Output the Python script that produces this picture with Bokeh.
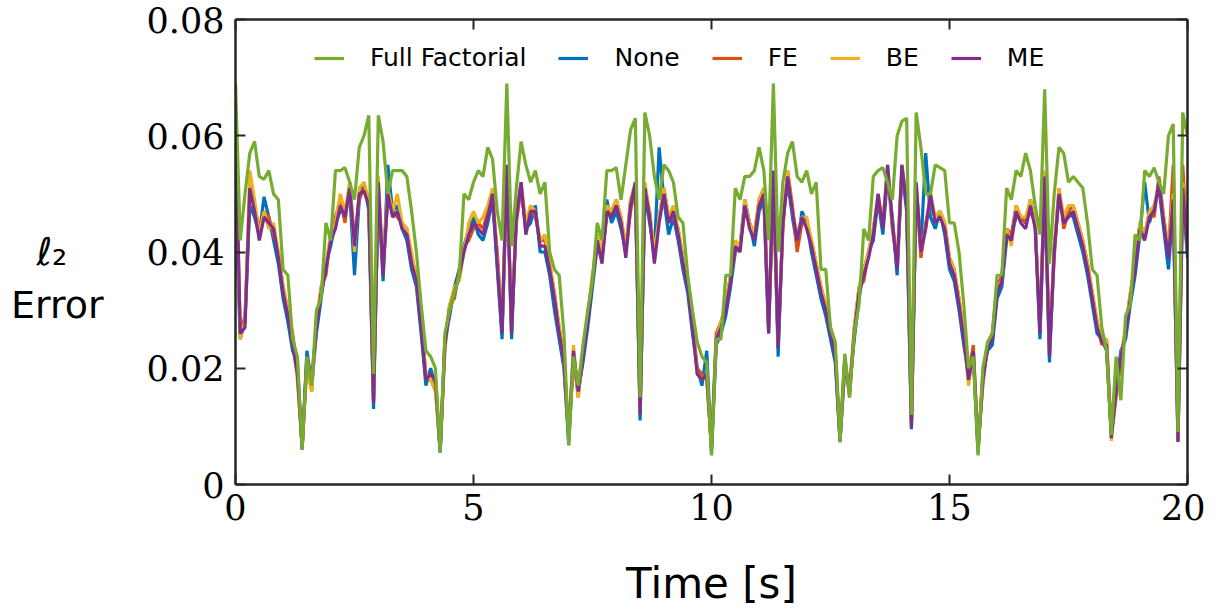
from bokeh.plotting import figure
from bokeh.models import (Range1d, FixedTicker, LinearAxis, PrintfTickFormatter,
                          Legend, LegendItem, CustomLabelingPolicy)
from bokeh.embed import file_html
from bokeh.resources import INLINE

# sample times [s], 0.1 s spacing
time_s = [i / 10 for i in range(201)]

series_names = ["Full Factorial", "None", "FE", "BE", "ME"]

full_factorial = [
    0.069, 0.042, 0.050, 0.057, 0.059, 0.053, 0.0525, 0.054, 0.050, 0.049,
    0.037, 0.036, 0.025, 0.022, 0.006, 0.022, 0.017, 0.030, 0.032, 0.045,
    0.042, 0.054, 0.054, 0.0545, 0.052, 0.049, 0.058, 0.060, 0.0635, 0.019,
    0.0635, 0.059, 0.050, 0.054, 0.054, 0.054, 0.053, 0.047, 0.040, 0.031,
    0.023, 0.022, 0.020, 0.0055, 0.026, 0.030, 0.033, 0.036, 0.050, 0.049,
    0.052, 0.054, 0.053, 0.058, 0.056, 0.047, 0.042, 0.069, 0.041, 0.051,
    0.059, 0.055, 0.052, 0.054, 0.050, 0.052, 0.040, 0.037, 0.036, 0.026,
    0.0067, 0.022, 0.017, 0.024, 0.030, 0.035, 0.045, 0.042, 0.054, 0.054,
    0.0545, 0.049, 0.055, 0.061, 0.063, 0.015, 0.064, 0.060, 0.053, 0.049,
    0.055, 0.054, 0.052, 0.046, 0.045, 0.036, 0.030, 0.0245, 0.022, 0.021,
    0.005, 0.025, 0.025, 0.036, 0.036, 0.051, 0.049, 0.053, 0.053, 0.054,
    0.058, 0.054, 0.042, 0.069, 0.040, 0.052, 0.057, 0.059, 0.053, 0.052,
    0.054, 0.050, 0.052, 0.037, 0.037, 0.027, 0.0245, 0.0073, 0.0225, 0.015,
    0.026, 0.031, 0.044, 0.042, 0.053, 0.054, 0.0545, 0.052, 0.049, 0.060,
    0.0625, 0.063, 0.012, 0.064, 0.058, 0.050, 0.050, 0.055, 0.0545, 0.054,
    0.045, 0.045, 0.040, 0.031, 0.020, 0.022, 0.005, 0.020, 0.0245, 0.026,
    0.036, 0.036, 0.051, 0.049, 0.054, 0.053, 0.057, 0.054, 0.048, 0.043,
    0.068, 0.038, 0.050, 0.058, 0.057, 0.052, 0.053, 0.052, 0.051, 0.045,
    0.037, 0.036, 0.027, 0.023, 0.0085, 0.022, 0.0145, 0.029, 0.031, 0.043,
    0.042, 0.054, 0.053, 0.0545, 0.052, 0.050, 0.060, 0.062, 0.009, 0.064,
    0.060,
]

none_err = [
    0.047, 0.025, 0.028, 0.048, 0.046, 0.043, 0.0495, 0.046, 0.042, 0.038,
    0.032, 0.028, 0.023, 0.021, 0.0060, 0.023, 0.017, 0.026, 0.032, 0.038,
    0.041, 0.045, 0.047, 0.047, 0.050, 0.036, 0.049, 0.052, 0.047, 0.013,
    0.051, 0.035, 0.055, 0.047, 0.048, 0.044, 0.042, 0.037, 0.034, 0.026,
    0.017, 0.020, 0.017, 0.0055, 0.025, 0.029, 0.034, 0.037, 0.041, 0.044,
    0.046, 0.043, 0.042, 0.045, 0.049, 0.037, 0.025, 0.053, 0.025, 0.047,
    0.051, 0.044, 0.045, 0.048, 0.040, 0.040, 0.036, 0.030, 0.025, 0.020,
    0.007, 0.022, 0.016, 0.021, 0.027, 0.034, 0.041, 0.039, 0.049, 0.045,
    0.047, 0.044, 0.040, 0.049, 0.051, 0.011, 0.050, 0.045, 0.040, 0.058,
    0.049, 0.043, 0.046, 0.042, 0.037, 0.033, 0.026, 0.020, 0.017, 0.023,
    0.0055, 0.024, 0.026, 0.029, 0.034, 0.040, 0.041, 0.049, 0.045, 0.041,
    0.047, 0.049, 0.026, 0.052, 0.022, 0.046, 0.052, 0.046, 0.041, 0.047,
    0.045, 0.040, 0.036, 0.032, 0.029, 0.025, 0.021, 0.0075, 0.020, 0.017,
    0.025, 0.032, 0.037, 0.040, 0.042, 0.049, 0.043, 0.053, 0.046, 0.036,
    0.054, 0.047, 0.0095, 0.051, 0.041, 0.057, 0.046, 0.044, 0.047, 0.043,
    0.037, 0.035, 0.030, 0.024, 0.019, 0.022, 0.0055, 0.019, 0.023, 0.024,
    0.032, 0.034, 0.042, 0.043, 0.046, 0.046, 0.045, 0.049, 0.045, 0.025,
    0.051, 0.021, 0.041, 0.049, 0.046, 0.047, 0.046, 0.043, 0.040, 0.036,
    0.031, 0.026, 0.025, 0.023, 0.0085, 0.017, 0.023, 0.025, 0.031, 0.036,
    0.043, 0.052, 0.045, 0.048, 0.051, 0.044, 0.037, 0.048, 0.0075, 0.050,
    0.039,
]

fe_err = [
    0.060, 0.026, 0.029, 0.050, 0.048, 0.044, 0.047, 0.046, 0.043, 0.040,
    0.034, 0.030, 0.026, 0.020, 0.0065, 0.021, 0.016, 0.028, 0.034, 0.036,
    0.043, 0.046, 0.049, 0.045, 0.052, 0.042, 0.049, 0.051, 0.049, 0.0145,
    0.051, 0.037, 0.049, 0.047, 0.046, 0.045, 0.044, 0.039, 0.036, 0.028,
    0.019, 0.018, 0.017, 0.006, 0.025, 0.031, 0.032, 0.037, 0.041, 0.042,
    0.044, 0.045, 0.044, 0.047, 0.049, 0.040, 0.027, 0.054, 0.027, 0.045,
    0.051, 0.044, 0.048, 0.046, 0.042, 0.042, 0.038, 0.033, 0.027, 0.022,
    0.0085, 0.022, 0.015, 0.023, 0.029, 0.036, 0.041, 0.039, 0.046, 0.047,
    0.049, 0.046, 0.040, 0.047, 0.051, 0.0125, 0.050, 0.047, 0.039, 0.046,
    0.051, 0.046, 0.046, 0.044, 0.039, 0.035, 0.028, 0.020, 0.019, 0.018,
    0.0065, 0.026, 0.028, 0.031, 0.036, 0.040, 0.041, 0.047, 0.045, 0.043,
    0.049, 0.051, 0.027, 0.053, 0.024, 0.044, 0.054, 0.048, 0.040, 0.045,
    0.045, 0.042, 0.038, 0.034, 0.031, 0.027, 0.023, 0.008, 0.022, 0.015,
    0.027, 0.034, 0.035, 0.040, 0.044, 0.049, 0.045, 0.054, 0.044, 0.038,
    0.054, 0.049, 0.0105, 0.051, 0.039, 0.045, 0.049, 0.046, 0.047, 0.045,
    0.039, 0.037, 0.032, 0.026, 0.019, 0.024, 0.0065, 0.017, 0.024, 0.026,
    0.034, 0.036, 0.044, 0.043, 0.048, 0.046, 0.045, 0.047, 0.045, 0.027,
    0.052, 0.023, 0.039, 0.051, 0.044, 0.047, 0.048, 0.045, 0.042, 0.038,
    0.033, 0.028, 0.024, 0.025, 0.0085, 0.015, 0.021, 0.027, 0.033, 0.038,
    0.045, 0.043, 0.047, 0.046, 0.053, 0.046, 0.040, 0.055, 0.008, 0.055,
    0.041,
]

be_err = [
    0.058, 0.025, 0.028, 0.054, 0.049, 0.043, 0.047, 0.044, 0.045, 0.040,
    0.034, 0.030, 0.025, 0.018, 0.0065, 0.020, 0.016, 0.028, 0.034, 0.038,
    0.043, 0.045, 0.050, 0.047, 0.052, 0.040, 0.051, 0.052, 0.049, 0.015,
    0.053, 0.037, 0.051, 0.047, 0.050, 0.045, 0.044, 0.040, 0.035, 0.028,
    0.019, 0.018, 0.016, 0.006, 0.023, 0.031, 0.034, 0.035, 0.040, 0.045,
    0.047, 0.045, 0.046, 0.048, 0.051, 0.039, 0.027, 0.054, 0.027, 0.047,
    0.052, 0.045, 0.048, 0.047, 0.042, 0.043, 0.038, 0.033, 0.027, 0.021,
    0.0085, 0.024, 0.015, 0.023, 0.029, 0.036, 0.043, 0.040, 0.048, 0.047,
    0.049, 0.046, 0.041, 0.049, 0.052, 0.0125, 0.052, 0.047, 0.040, 0.046,
    0.051, 0.046, 0.048, 0.044, 0.039, 0.035, 0.028, 0.019, 0.018, 0.019,
    0.0065, 0.025, 0.028, 0.031, 0.036, 0.042, 0.041, 0.049, 0.045, 0.043,
    0.049, 0.051, 0.027, 0.053, 0.024, 0.046, 0.054, 0.047, 0.043, 0.046,
    0.046, 0.042, 0.038, 0.034, 0.031, 0.027, 0.023, 0.008, 0.020, 0.017,
    0.027, 0.034, 0.037, 0.040, 0.044, 0.050, 0.045, 0.055, 0.045, 0.038,
    0.055, 0.049, 0.0105, 0.052, 0.040, 0.044, 0.050, 0.046, 0.047, 0.045,
    0.039, 0.037, 0.032, 0.026, 0.017, 0.023, 0.0065, 0.018, 0.024, 0.026,
    0.034, 0.035, 0.044, 0.041, 0.048, 0.046, 0.046, 0.049, 0.045, 0.027,
    0.054, 0.023, 0.041, 0.051, 0.046, 0.048, 0.048, 0.045, 0.042, 0.038,
    0.033, 0.028, 0.025, 0.025, 0.0075, 0.016, 0.022, 0.027, 0.033, 0.038,
    0.045, 0.043, 0.047, 0.048, 0.052, 0.046, 0.041, 0.050, 0.0075, 0.052,
    0.040,
]

me_err = [
    0.062, 0.026, 0.027, 0.051, 0.047, 0.042, 0.046, 0.045, 0.044, 0.039,
    0.033, 0.029, 0.024, 0.019, 0.0063, 0.022, 0.018, 0.027, 0.033, 0.037,
    0.042, 0.044, 0.048, 0.046, 0.051, 0.041, 0.050, 0.0505, 0.048, 0.014,
    0.052, 0.036, 0.050, 0.046, 0.047, 0.044, 0.043, 0.038, 0.035, 0.027,
    0.018, 0.019, 0.018, 0.0058, 0.024, 0.030, 0.033, 0.036, 0.040, 0.043,
    0.045, 0.044, 0.043, 0.046, 0.050, 0.038, 0.026, 0.055, 0.026, 0.046,
    0.052, 0.043, 0.047, 0.047, 0.041, 0.041, 0.037, 0.032, 0.026, 0.021,
    0.008, 0.023, 0.016, 0.022, 0.028, 0.035, 0.042, 0.038, 0.047, 0.046,
    0.048, 0.045, 0.039, 0.048, 0.052, 0.012, 0.051, 0.046, 0.038, 0.045,
    0.050, 0.045, 0.047, 0.043, 0.038, 0.034, 0.027, 0.019, 0.018, 0.019,
    0.006, 0.025, 0.027, 0.030, 0.035, 0.041, 0.040, 0.048, 0.044, 0.042,
    0.048, 0.050, 0.026, 0.054, 0.0235, 0.045, 0.053, 0.047, 0.042, 0.046,
    0.044, 0.041, 0.037, 0.033, 0.030, 0.026, 0.022, 0.0073, 0.021, 0.016,
    0.026, 0.033, 0.036, 0.039, 0.043, 0.050, 0.044, 0.055, 0.045, 0.037,
    0.055, 0.048, 0.0098, 0.052, 0.040, 0.044, 0.050, 0.045, 0.046, 0.044,
    0.038, 0.036, 0.031, 0.025, 0.018, 0.023, 0.006, 0.018, 0.0235, 0.025,
    0.033, 0.035, 0.043, 0.042, 0.047, 0.045, 0.044, 0.048, 0.044, 0.026,
    0.053, 0.022, 0.040, 0.050, 0.045, 0.046, 0.047, 0.044, 0.041, 0.037,
    0.032, 0.027, 0.0245, 0.024, 0.008, 0.016, 0.022, 0.026, 0.032, 0.037,
    0.044, 0.042, 0.046, 0.047, 0.052, 0.045, 0.039, 0.049, 0.0073, 0.051,
    0.040,
]

x_ticks = [0, 5, 10, 15, 20]
y_ticks = [0, 0.02, 0.04, 0.06, 0.08]

colors = {"Full Factorial": "#77AC30", "None": "#0072BD", "FE": "#D95319",
          "BE": "#EDB120", "ME": "#7E2F8E"}
values = {"Full Factorial": full_factorial, "None": none_err, "FE": fe_err,
          "BE": be_err, "ME": me_err}

p = figure(width=1205, height=610, x_range=Range1d(0, 20), y_range=Range1d(0, 0.08),
           output_backend="svg", toolbar_location=None,
           min_border_left=235, min_border_right=18, min_border_top=19,
           min_border_bottom=125)
p.grid.visible = False
p.outline_line_color = None
p.background_fill_color = "white"

bottom_axis = p.below[0]
left_axis = p.left[0]
right_axis = LinearAxis()
top_axis = LinearAxis()
p.add_layout(right_axis, "right")
p.add_layout(top_axis, "above")

for ax in (bottom_axis, left_axis, right_axis, top_axis):
    ax.axis_line_width = 2.5
    ax.axis_line_color = "#262626"
    ax.major_tick_in = 10
    ax.major_tick_out = 0
    ax.minor_tick_in = 0
    ax.minor_tick_out = 0
    ax.major_tick_line_width = 2
    ax.major_tick_line_color = "#262626"
    ax.major_label_text_font = "DejaVu Serif"
    ax.major_label_text_font_size = "35px"
    ax.major_label_text_color = "#000000"
    ax.formatter = PrintfTickFormatter(format="%g")

bottom_axis.ticker = FixedTicker(ticks=x_ticks)
top_axis.ticker = FixedTicker(ticks=x_ticks)
left_axis.ticker = FixedTicker(ticks=y_ticks)
right_axis.ticker = FixedTicker(ticks=y_ticks)

left_axis.major_label_standoff = 11
bottom_axis.major_label_standoff = 9

hide_all = CustomLabelingPolicy(code="""
    const all = [...indices]
    for (const i of all) indices.unset(i)
    return indices
""")
for ax in (right_axis, top_axis):
    ax.major_label_text_font_size = "1px"
    ax.major_label_standoff = 0
    ax.major_label_policy = hide_all

bottom_axis.axis_label = "Time [s]"
bottom_axis.axis_label_text_font = "DejaVu Sans"
bottom_axis.axis_label_text_font_size = "42px"
bottom_axis.axis_label_text_font_style = "normal"
bottom_axis.axis_label_text_color = "#000000"
bottom_axis.axis_label_standoff = 36

# y-axis title written horizontally on two lines (empty first line lowers the block)
left_axis.axis_label = "\nℓ₂\u00a0\u00a0\u00a0\nError"
left_axis.axis_label_orientation = "horizontal"
left_axis.axis_label_text_font = "DejaVu Sans"
left_axis.axis_label_text_font_size = "38px"
left_axis.axis_label_text_font_style = "normal"
left_axis.axis_label_text_color = "#000000"
left_axis.axis_label_standoff = 40

renderers = {}
for name in ["None", "FE", "BE", "ME", "Full Factorial"]:
    renderers[name] = p.line(time_s, values[name], line_color=colors[name], line_width=3.2)

legend = Legend(items=[LegendItem(label=n, renderers=[renderers[n]]) for n in series_names],
                orientation="horizontal", location=(79, 412),
                glyph_width=30, glyph_height=20, label_standoff=26, spacing=32,
                padding=0, margin=0, border_line_color=None,
                background_fill_alpha=0,
                label_text_font="DejaVu Sans", label_text_font_size="25px",
                label_text_color="#000000")
p.add_layout(legend)

open("out.html", "w").write(file_html(p, INLINE))
